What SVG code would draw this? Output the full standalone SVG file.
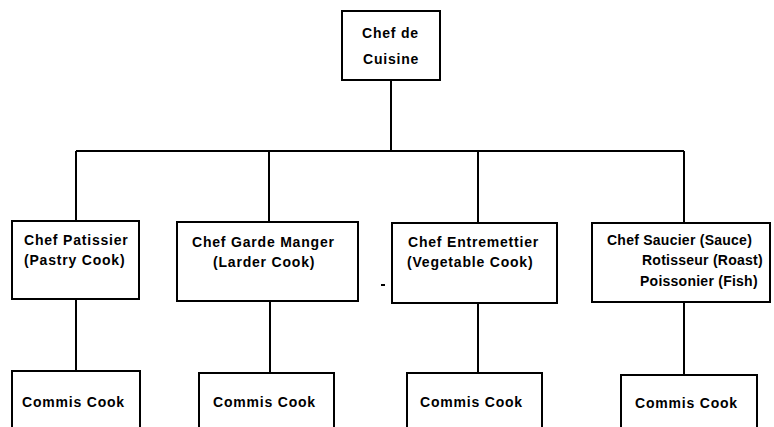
<svg xmlns="http://www.w3.org/2000/svg" width="774" height="427" viewBox="0 0 774 427">
<style>
.box{fill:#fff;stroke:#000;stroke-width:2}
.ln{fill:none;stroke:#000;stroke-width:2}
text{font-family:"Liberation Sans",Arial,sans-serif;font-size:14px;font-weight:bold;letter-spacing:0.8px;fill:#000}
.tight{letter-spacing:0.25px}
</style>
<rect width="774" height="427" fill="#fff"/>
<g id="connectors">
<path class="ln" d="M391 80V151M76 151H684M76 151V221M269 151V222M478 151V223M684 151V223"/>
<path class="ln" d="M76 299V371M270 301V373M478 303V373M684 302V375"/>
</g>
<g id="chef-de-cuisine">
<rect class="box" x="342" y="11" width="98" height="69"/>
<text x="362" y="38">Chef de</text>
<text x="363" y="64">Cuisine</text>
</g>
<g id="chef-patissier">
<rect class="box" x="12" y="221" width="127" height="78"/>
<text x="24" y="245">Chef Patissier</text>
<text x="24" y="265">(Pastry Cook)</text>
</g>
<g id="chef-garde-manger">
<rect class="box" x="177" y="222" width="181" height="79"/>
<text x="192" y="247">Chef Garde Manger</text>
<text x="213" y="267">(Larder Cook)</text>
</g>
<g id="chef-entremettier">
<rect class="box" x="392" y="223" width="165" height="80"/>
<text x="408" y="247">Chef Entremettier</text>
<text x="407" y="267">(Vegetable Cook)</text>
</g>
<path class="ln" d="M381 285H385" stroke-width="1"/>
<g id="chef-saucier">
<rect class="box" x="592" y="223" width="178" height="79"/>
<text class="tight" x="607" y="245">Chef Saucier (Sauce)</text>
<text class="tight" x="642" y="265">Rotisseur (Roast)</text>
<text class="tight" x="640" y="286">Poissonier (Fish)</text>
</g>
<g id="commis-1">
<rect class="box" x="12" y="371" width="128" height="70"/>
<text x="22" y="407">Commis Cook</text>
</g>
<g id="commis-2">
<rect class="box" x="199" y="373" width="135" height="70"/>
<text x="213" y="407">Commis Cook</text>
</g>
<g id="commis-3">
<rect class="box" x="407" y="373" width="135" height="70"/>
<text x="420" y="407">Commis Cook</text>
</g>
<g id="commis-4">
<rect class="box" x="621" y="375" width="136" height="70"/>
<text x="635" y="408">Commis Cook</text>
</g>
</svg>
